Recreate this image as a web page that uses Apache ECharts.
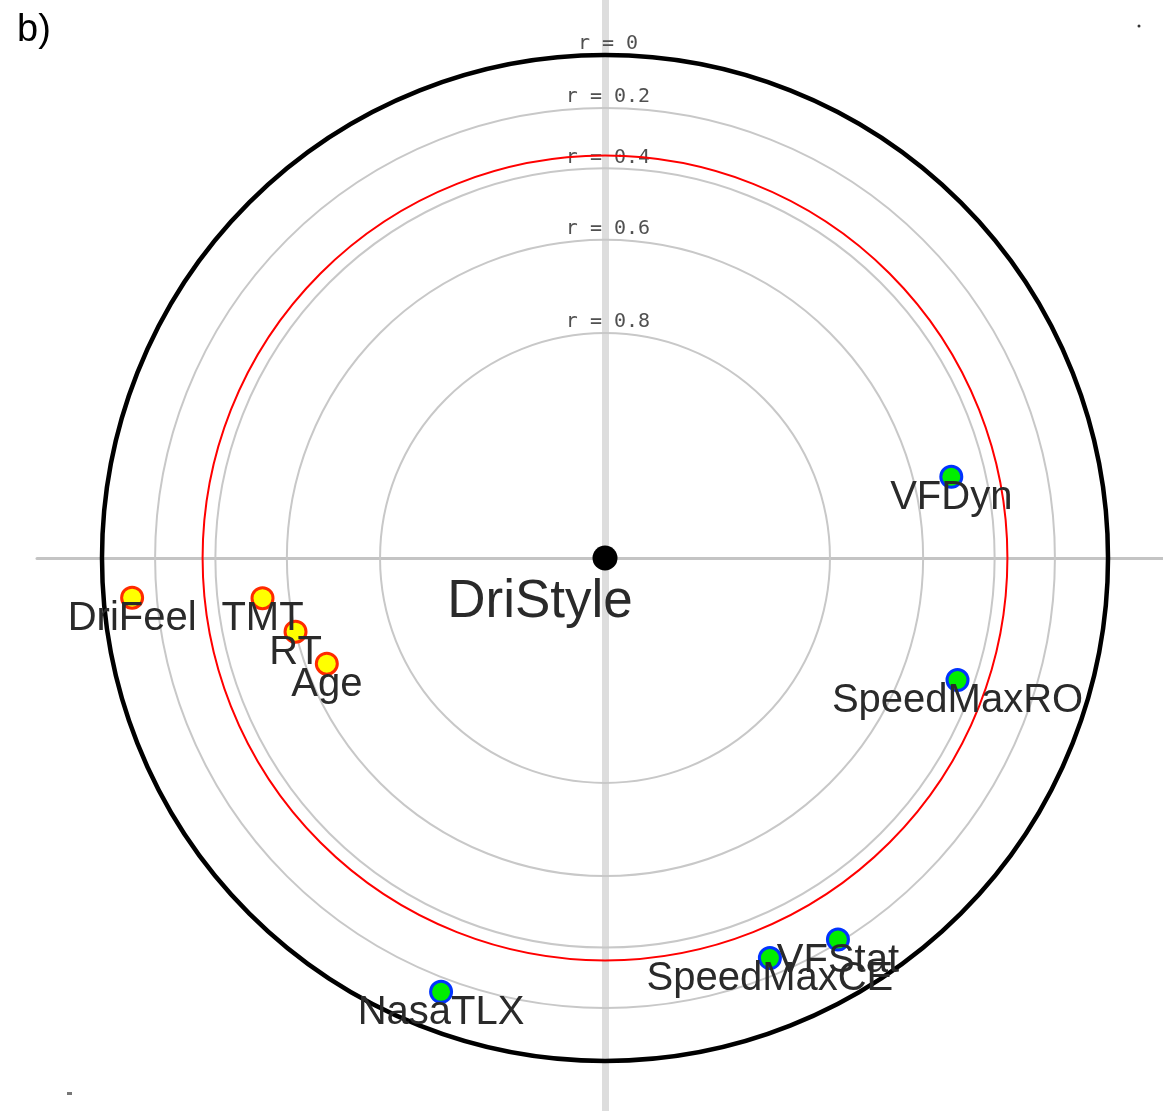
<!DOCTYPE html>
<html>
<head>
<meta charset="utf-8">
<script src="https://cdn.jsdelivr.net/npm/echarts@6/dist/echarts.min.js"></script>
<style>
html,body{margin:0;padding:0;background:#fff;}
#chart{width:1163px;height:1111px;}
</style>
</head>
<body>
<div id="chart"></div>
<script>
// ---- data ----
const variableNames = ['VFDyn', 'SpeedMaxRO', 'DriFeel', 'TMT', 'RT', 'Age', 'NasaTLX', 'SpeedMaxCE', 'VFStat'];
const correlations = [0.50, 0.45, -0.11, -0.53, -0.60, -0.65, 0.15, 0.26, 0.21];
const anglesDeg = [13.2, -19.1, 184.8, 186.7, 193.4, 200.8, 249.3, 292.4, 301.4];
const ringValues = [0, 0.2, 0.4, 0.6, 0.8];
const ringLabels = ['r = 0', 'r = 0.2', 'r = 0.4', 'r = 0.6', 'r = 0.8'];
const thresholdR = [0.36];
const dependentName = 'DriStyle';

// radius mapping used by focused PCA plot: distance = sqrt(1 - |r|)
function rad(r) { return Math.sqrt(1 - Math.abs(r)); }

const posPts = [], negPts = [];
variableNames.forEach((n, i) => {
  const d = rad(correlations[i]);
  const a = anglesDeg[i] * Math.PI / 180;
  const item = { name: n, value: [d * Math.cos(a), d * Math.sin(a)] };
  (correlations[i] >= 0 ? posPts : negPts).push(item);
});

function ringRender(color, width) {
  return function (params, api) {
    const v = api.value(0);
    const c = api.coord([0, 0]);
    const rp = api.size([rad(v), 0])[0];
    return {
      type: 'circle',
      shape: { cx: c[0], cy: c[1], r: rp },
      style: { fill: null, stroke: color, lineWidth: width }
    };
  };
}

const labelStyle = {
  show: true, position: 'inside', offset: [0, 21],
  formatter: p => p.name,
  fontFamily: 'Liberation Sans', fontSize: 40, color: '#2a2a2a'
};

const chart = echarts.init(document.getElementById('chart'));
chart.setOption({
  animation: false,
  backgroundColor: '#fff',
  grid: { left: 37, right: 0, top: 0, bottom: 0 },
  xAxis: {
    type: 'value', min: -1.1292, max: 1.1093,
    axisLine: { show: true, onZero: true, lineStyle: { color: '#c4c4c4', width: 3 } },
    axisTick: { show: false }, axisLabel: { show: false }, splitLine: { show: false }
  },
  yAxis: {
    type: 'value', min: -1.0994, max: 1.1093,
    axisLine: { show: true, onZero: true, lineStyle: { color: '#dddddd', width: 7 } },
    axisTick: { show: false }, axisLabel: { show: false }, splitLine: { show: false }
  },
  graphic: [
    { type: 'text', left: 17, top: 12, style: { text: 'b)', font: '38px "Liberation Sans"', fill: '#000' } },
    { type: 'circle', shape: { cx: 1139, cy: 26, r: 1.5 }, style: { fill: '#333' } },
    { type: 'rect', shape: { x: 67, y: 1092, width: 5, height: 3 }, style: { fill: '#777' } }
  ],
  series: [
    {
      type: 'custom', name: 'rings', z: 3,
      data: ringValues.slice(1).map(v => [v, 0]),
      renderItem: ringRender('#c8c8c8', 2),
      silent: true
    },
    {
      type: 'custom', name: 'outer', z: 4,
      data: [[ringValues[0], 0]],
      renderItem: ringRender('#000', 4.5),
      silent: true
    },
    {
      type: 'custom', name: 'ringlabels', z: 5,
      data: ringValues.map(v => [v, 0]),
      renderItem: function (params, api) {
        const v = api.value(0);
        const c = api.coord([0, 0]);
        const rp = api.size([rad(v), 0])[0];
        return {
          type: 'text',
          style: {
            x: c[0] + 3, y: c[1] - rp - 1,
            text: ringLabels[params.dataIndex],
            fill: '#505050',
            font: '20px "DejaVu Sans Mono"',
            textAlign: 'center', textVerticalAlign: 'bottom'
          }
        };
      },
      silent: true
    },
    {
      type: 'custom', name: 'threshold', z: 6,
      data: thresholdR.map(v => [v, 0]),
      renderItem: ringRender('#ff0000', 2),
      silent: true
    },
    {
      type: 'scatter', name: 'negative', z: 10,
      data: negPts, symbolSize: 21,
      itemStyle: { color: '#ffff00', borderColor: '#ff2a00', borderWidth: 3, opacity: 1 },
      label: labelStyle
    },
    {
      type: 'scatter', name: 'positive', z: 10,
      data: posPts, symbolSize: 21,
      itemStyle: { color: '#00ee00', borderColor: '#0033ff', borderWidth: 3, opacity: 1 },
      label: labelStyle
    },
    {
      type: 'scatter', name: 'center', z: 12,
      data: [{ name: dependentName, value: [0, 0] }], symbolSize: 25,
      itemStyle: { color: '#000', opacity: 1 },
      label: {
        show: true, position: 'inside', offset: [-65, 44],
        formatter: p => p.name,
        fontFamily: 'Liberation Sans', fontSize: 53, color: '#2a2a2a'
      }
    }
  ]
});
</script>
</body>
</html>
